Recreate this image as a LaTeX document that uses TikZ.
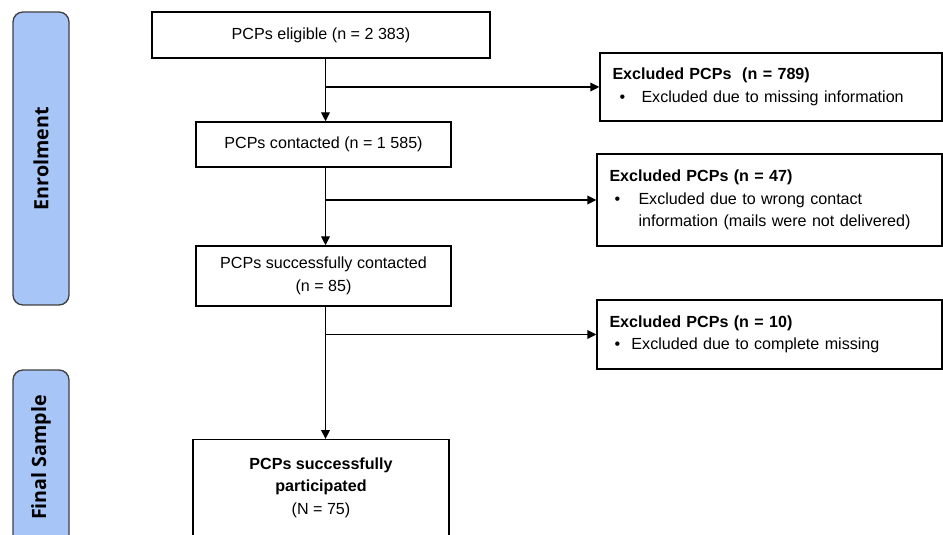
\documentclass[tikz,border=0pt]{standalone}
\usepackage{fontspec}
\setmainfont{Liberation Sans}
\newfontfamily\sidefont{Open Sans}
\usetikzlibrary{arrows.meta}
\definecolor{barblue}{RGB}{168,197,247}
\definecolor{bargray}{RGB}{64,64,64}
\newcommand{\bul}[3]{\makebox[#2][l]{\hspace*{#1}\textbullet}#3}

\begin{document}
\begin{tikzpicture}[x=0.6pt, y=-0.6pt,
  box/.style={draw, line width=0.85pt, fill=white, align=center, inner sep=0pt,
    font=\fontsize{9.66}{13.4}\selectfont},
  exbox/.style={box, align=left, inner xsep=7.5pt},
  bar/.style={draw=bargray, fill=barblue, line width=0.8pt, rounded corners=6pt,
    rotate=90, minimum height=33.6pt, inner sep=0pt,
    font=\sidefont\bfseries\fontsize{11.8}{14}\selectfont},
  arr/.style={line width=0.85pt, -{Triangle[length=5.4pt,width=5.2pt]}}]
\useasboundingbox (0,0) rectangle (943,535);
\clip (0,0) rectangle (943,535);

% phases
\node[bar, minimum width=175.8pt] (enrol) at (41,158.5) {Enrolment};
\node[bar, minimum width=105pt] (sample) at (41,457.5) {Final Sample};

% main flow
\node[box, minimum width=202.8pt, minimum height=27.6pt] (elig) at (321,35) {PCPs eligible (n = 2 383)};
\node[box, minimum width=153pt, minimum height=27pt] (cont) at (323.5,144.5) {PCPs contacted (n = 1 585)};
\node[box, minimum width=153pt, minimum height=36pt] (succ) at (323.5,276) {PCPs successfully contacted\\(n = 85)};
\node[box, minimum width=153.6pt, anchor=north, inner ysep=10.8pt, text depth=60pt] (part) at (321,439)
  {\textbf{PCPs successfully}\\\textbf{participated}\\(N = 75)};

% exclusions
\node[exbox, text width=190.2pt, minimum height=40.8pt] (exone) at (771,87)
  {\textbf{Excluded PCPs\ \ (n = 789)}\\\bul{4.2pt}{17.4pt}{Excluded due to missing information}};
\node[exbox, text width=192pt, minimum height=55.2pt] (extwo) at (769.5,200)
  {\textbf{Excluded PCPs (n = 47)}\\\bul{3pt}{17.4pt}{Excluded due to wrong contact}\\\hspace*{17.4pt}information (mails were not delivered)};
\node[exbox, text width=192pt, minimum height=41.4pt] (exthree) at (769.5,334.5)
  {\textbf{Excluded PCPs (n = 10)}\\\bul{3pt}{13.2pt}{Excluded due to complete missing}};

\coordinate (spine) at (325.5,0);
\draw[arr] (elig.south -| spine) -- (cont.north -| spine);
\draw[arr] (cont.south -| spine) -- (succ.north -| spine);
\draw[arr] (succ.south -| spine) -- (part.north -| spine);
\draw[arr] (spine |- exone.west) -- (exone.west);
\draw[arr] (spine |- extwo.west) -- (extwo.west);
\draw[arr] (spine |- exthree.west) -- (exthree.west);
\end{tikzpicture}
\end{document}
